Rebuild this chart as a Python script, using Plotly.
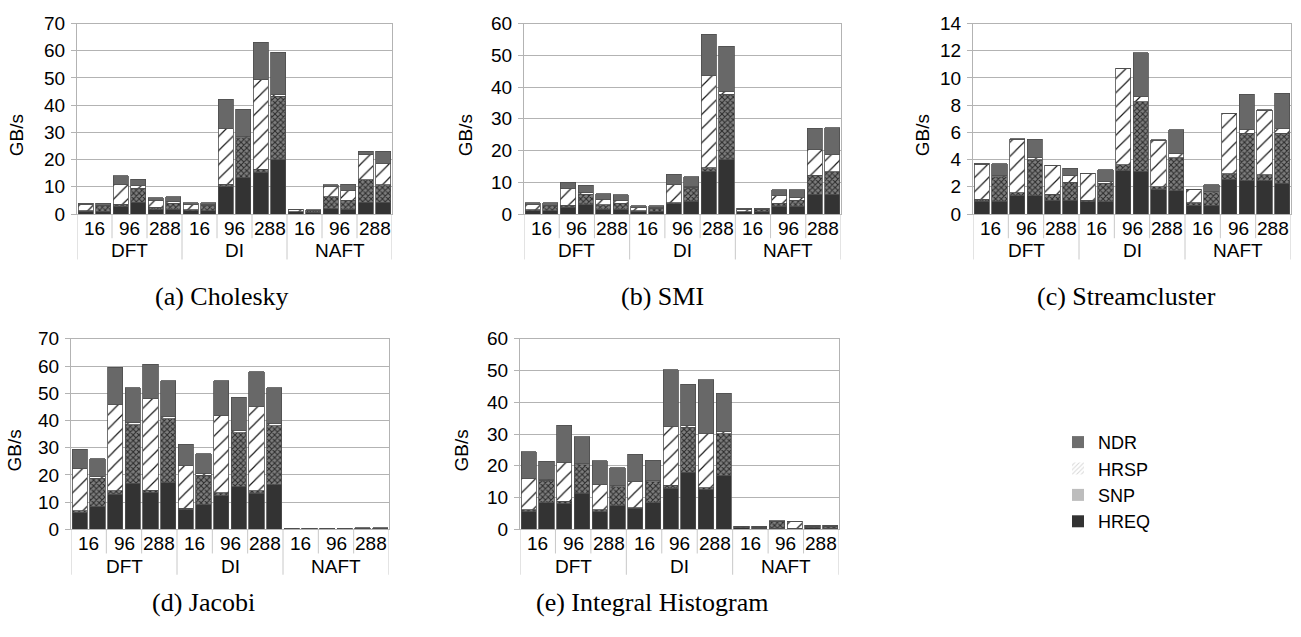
import plotly.graph_objects as go

# ---------------- data ----------------
groups = ["DFT", "DI", "NAFT"]
sizes = ["16", "96", "288"]
variants = ["a", "b"]
series_names = ["HREQ", "SNP", "HRSP", "NDR"]

# (a) Cholesky
chol_hreq = [1.0, 1.0, 2.7, 4.3, 1.5, 1.8, 1.2, 1.2, 10.1, 13.4, 15.2, 19.9, 0.8, 0.7, 2.0, 1.8, 4.3, 4.3]
chol_snp = [0.3, 2.0, 0.9, 5.2, 1.0, 2.1, 0.3, 2.0, 0.8, 14.6, 1.2, 23.3, 0.1, 0.6, 4.3, 3.2, 8.3, 6.5]
chol_hrsp = [2.2, 0.2, 7.2, 0.9, 2.6, 0.8, 2.0, 0.2, 20.6, 0.6, 32.9, 0.7, 0.6, 0.05, 4.0, 3.6, 9.4, 7.8]
chol_ndr = [0.5, 0.8, 3.2, 2.4, 0.9, 1.6, 0.6, 0.7, 10.7, 9.9, 13.9, 15.5, 0.2, 0.2, 0.5, 2.4, 1.1, 4.5]

# (b) SMI
smi_hreq = [1.1, 1.1, 2.1, 3.0, 1.5, 1.5, 0.9, 0.9, 3.3, 4.0, 13.4, 17.1, 0.7, 0.7, 2.5, 2.5, 6.3, 6.3]
smi_snp = [0.3, 1.5, 0.6, 3.3, 1.4, 1.9, 0.2, 1.0, 0.3, 4.4, 1.2, 20.6, 0.1, 0.7, 0.9, 1.9, 5.9, 7.0]
smi_hrsp = [1.6, 0.2, 5.2, 0.6, 1.8, 1.0, 0.9, 0.1, 5.7, 0.2, 29.0, 1.0, 0.7, 0.1, 2.4, 0.8, 8.2, 5.3]
smi_ndr = [0.55, 0.7, 2.1, 2.2, 1.7, 1.7, 0.6, 0.6, 3.2, 3.1, 13.0, 14.2, 0.4, 0.4, 1.8, 2.4, 6.6, 8.6]

# (c) Streamcluster
sc_hreq = [0.95, 0.93, 1.35, 1.35, 1.0, 1.0, 0.9, 0.9, 3.17, 3.15, 1.78, 1.7, 0.66, 0.66, 2.56, 2.46, 2.46, 2.27]
sc_snp = [0.12, 1.8, 0.2, 2.65, 0.47, 1.32, 0.1, 1.37, 0.45, 5.1, 0.22, 2.45, 0.17, 0.9, 0.4, 3.46, 0.41, 3.65]
sc_hrsp = [2.6, 0.1, 3.95, 0.15, 2.1, 0.52, 1.96, 0.1, 7.06, 0.42, 3.43, 0.28, 0.99, 0.07, 4.41, 0.31, 4.71, 0.36]
sc_ndr = [0.05, 0.88, 0.02, 1.35, 0.02, 0.52, 0.02, 0.88, 0.05, 3.2, 0.02, 1.75, 0.02, 0.53, 0.02, 2.56, 0.07, 2.58]

# (d) Jacobi
jac_hreq = [6.1, 8.3, 12.9, 17.0, 13.4, 17.1, 7.1, 9.1, 12.3, 15.7, 13.2, 16.4, 0.15, 0.15, 0.18, 0.18, 0.25, 0.25]
jac_snp = [0.8, 10.5, 1.2, 21.5, 0.9, 23.5, 0.7, 10.8, 1.1, 19.7, 1.0, 21.7, 0.03, 0.08, 0.03, 0.1, 0.05, 0.15]
jac_hrsp = [15.3, 0.7, 31.8, 0.9, 33.7, 0.8, 15.5, 0.7, 28.5, 0.8, 31.0, 0.9, 0.08, 0.02, 0.1, 0.02, 0.12, 0.03]
jac_ndr = [7.2, 6.4, 13.7, 12.7, 12.7, 13.1, 7.9, 7.1, 12.7, 12.4, 12.6, 13.1, 0.04, 0.05, 0.04, 0.05, 0.08, 0.07]

# (e) Integral Histogram
ih_hreq = [5.5, 8.3, 8.1, 11.4, 5.5, 7.4, 6.6, 8.4, 13.0, 18.0, 12.4, 16.8, 0.5, 0.3, 0.3, 0.3, 0.5, 0.4]
ih_snp = [0.7, 7.1, 0.8, 8.9, 0.7, 6.0, 0.2, 6.5, 0.8, 14.1, 0.7, 13.3, 0.3, 0.3, 2.2, 0.1, 0.5, 0.6]
ih_hrsp = [9.8, 0.4, 12.2, 0.5, 7.8, 0.5, 8.2, 0.4, 18.6, 0.7, 17.2, 0.6, 0.1, 0.3, 0.1, 2.0, 0.1, 0.1]
ih_ndr = [8.5, 5.7, 11.6, 8.3, 7.6, 5.5, 8.6, 6.4, 17.9, 12.9, 16.8, 12.2, 0.1, 0.1, 0.1, 0.1, 0.1, 0.1]

y_ranges = [70, 60, 14, 70, 60]
y_dticks = [10, 10, 2, 10, 10]
captions = ["(a) Cholesky", "(b) SMI", "(c) Streamcluster", "(d) Jacobi", "(e) Integral Histogram"]
y_title = "GB/s"

charts = [
    (chol_hreq, chol_snp, chol_hrsp, chol_ndr),
    (smi_hreq, smi_snp, smi_hrsp, smi_ndr),
    (sc_hreq, sc_snp, sc_hrsp, sc_ndr),
    (jac_hreq, jac_snp, jac_hrsp, jac_ndr),
    (ih_hreq, ih_snp, ih_hrsp, ih_ndr),
]

# ---------------- layout geometry (pixels) ----------------
W, H = 1301, 637
plot_boxes = [  # left, right, top, bottom
    (77, 392, 14, 211),
    (524, 841, 14, 211),
    (973, 1291, 14, 211),
    (71, 389, 340, 537),
    (520, 839, 340, 537),
]
caption_pos = [(222, 296), (662, 296), (1126, 296), (203, 613), (652, 613)]
ytitle_x = [16, 465, 922, 14, 461]


def px(x):
    return x / W


def py(y):
    return 1 - y / H


categories = [f"{g} {s} {v}" for g in groups for s in sizes for v in variants]

styles = {
    "HREQ": dict(color="#333333"),
    "SNP": dict(color="#7e7e7e", pattern=dict(shape="x", fgcolor="#2b2b2b", bgcolor="#7e7e7e",
                                               size=4, solidity=0.45, fillmode="replace")),
    "HRSP": dict(color="#ffffff", pattern=dict(shape="/", fgcolor="#1a1a1a", bgcolor="#ffffff",
                                                size=10, solidity=0.12, fillmode="replace")),
    "NDR": dict(color="#686868"),
}

fig = go.Figure()
annotations = []
shapes = []
font_sans = "Liberation Sans, Arial, sans-serif"
font_serif = "Liberation Serif, Times New Roman, serif"
tick_size = 19

for i, (vals, box, ymax, dt) in enumerate(zip(charts, plot_boxes, y_ranges, y_dticks)):
    n = i + 1
    xa = "x" if n == 1 else f"x{n}"
    ya = "y" if n == 1 else f"y{n}"
    l, r, t, b = box
    for name, v in zip(series_names, vals):
        fig.add_trace(go.Bar(
            x=categories, y=v, name=name, xaxis=xa, yaxis=ya, showlegend=False,
            marker=dict(line=dict(color="#4d4d4d", width=0.8), **styles[name]),
        ))
    xkey = "xaxis" if n == 1 else f"xaxis{n}"
    ykey = "yaxis" if n == 1 else f"yaxis{n}"
    fig.layout[xkey] = dict(domain=[px(l), px(r)], anchor=ya, type="category",
                            categoryorder="array", categoryarray=categories,
                            range=[-0.5, len(categories) - 0.5],
                            showticklabels=False, ticks="", showgrid=False,
                            showline=True, linecolor="#b3b3b3", linewidth=1, mirror=True)
    fig.layout[ykey] = dict(domain=[py(b), py(t)], anchor=xa, range=[0, ymax], dtick=dt,
                            showgrid=True, gridcolor="#b3b3b3", gridwidth=1,
                            showline=True, linecolor="#b3b3b3", mirror=True,
                            ticks="outside", ticklen=5, tickcolor="#b3b3b3", ticklabelstandoff=2,
                            tickfont=dict(family=font_sans, size=tick_size, color="#000000"),
                            zeroline=False)
    # y title
    annotations.append(dict(x=px(ytitle_x[i]), y=py((t + b) / 2 + 17), xref="paper", yref="paper",
                            text=y_title, textangle=-90, showarrow=False,
                            font=dict(family=font_sans, size=19, color="#000000"),
                            xanchor="center", yanchor="middle"))
    # category labels
    xref = xa
    for gi, g in enumerate(groups):
        for si, s in enumerate(sizes):
            c = gi * 6 + si * 2 + 0.5
            annotations.append(dict(x=c, y=py(b + 15), xref=xref, yref="paper", text=s,
                                    showarrow=False, xanchor="center", yanchor="middle",
                                    font=dict(family=font_sans, size=tick_size, color="#000000")))
            if si > 0:
                pos = gi * 6 + si * 2 - 0.5
                shapes.append(dict(type="line", xref=xref, yref="paper", x0=pos, x1=pos,
                                   y0=py(b), y1=py(b + 25), line=dict(color="#c8c8c8", width=1)))
        annotations.append(dict(x=gi * 6 + 2.5, y=py(b + 38), xref=xref, yref="paper", text=g,
                                showarrow=False, xanchor="center", yanchor="middle",
                                font=dict(family=font_sans, size=tick_size, color="#000000")))
    for gi in range(len(groups) + 1):
        pos = gi * 6 - 0.5
        shapes.append(dict(type="line", xref=xref, yref="paper", x0=pos, x1=pos,
                           y0=py(b), y1=py(b + 47), line=dict(color="#c8c8c8", width=1)))
    # caption
    cx, cy = caption_pos[i]
    annotations.append(dict(x=px(cx), y=py(cy), xref="paper", yref="paper", text=captions[i],
                            showarrow=False, xanchor="center", yanchor="middle",
                            font=dict(family=font_serif, size=26, color="#000000")))

# legend-only entries
legend_styles = {
    "HREQ": dict(color="#333333"),
    "SNP": dict(color="#bdbdbd"),
    "HRSP": dict(color="#ffffff", pattern=dict(shape="/", fgcolor="#b0b0b0", bgcolor="#ffffff",
                                                size=4, solidity=0.3)),
    "NDR": dict(color="#6e6e6e"),
}
for name in series_names:
    fig.add_trace(go.Bar(x=[None], y=[None], name=name, xaxis="x", yaxis="y", showlegend=True,
                         marker=dict(line=dict(width=0), **legend_styles[name])))

fig.update_layout(
    width=W, height=H, margin=dict(l=0, r=0, t=0, b=0),
    paper_bgcolor="white", plot_bgcolor="white",
    barmode="stack", bargap=0.14,
    annotations=annotations, shapes=shapes,
    legend=dict(x=px(1058), y=py(428), xanchor="left", yanchor="top", traceorder="reversed",
                font=dict(family=font_sans, size=18, color="#000000"),
                bgcolor="rgba(0,0,0,0)", itemwidth=30, tracegroupgap=0),
)

fig.write_html("out.html")
